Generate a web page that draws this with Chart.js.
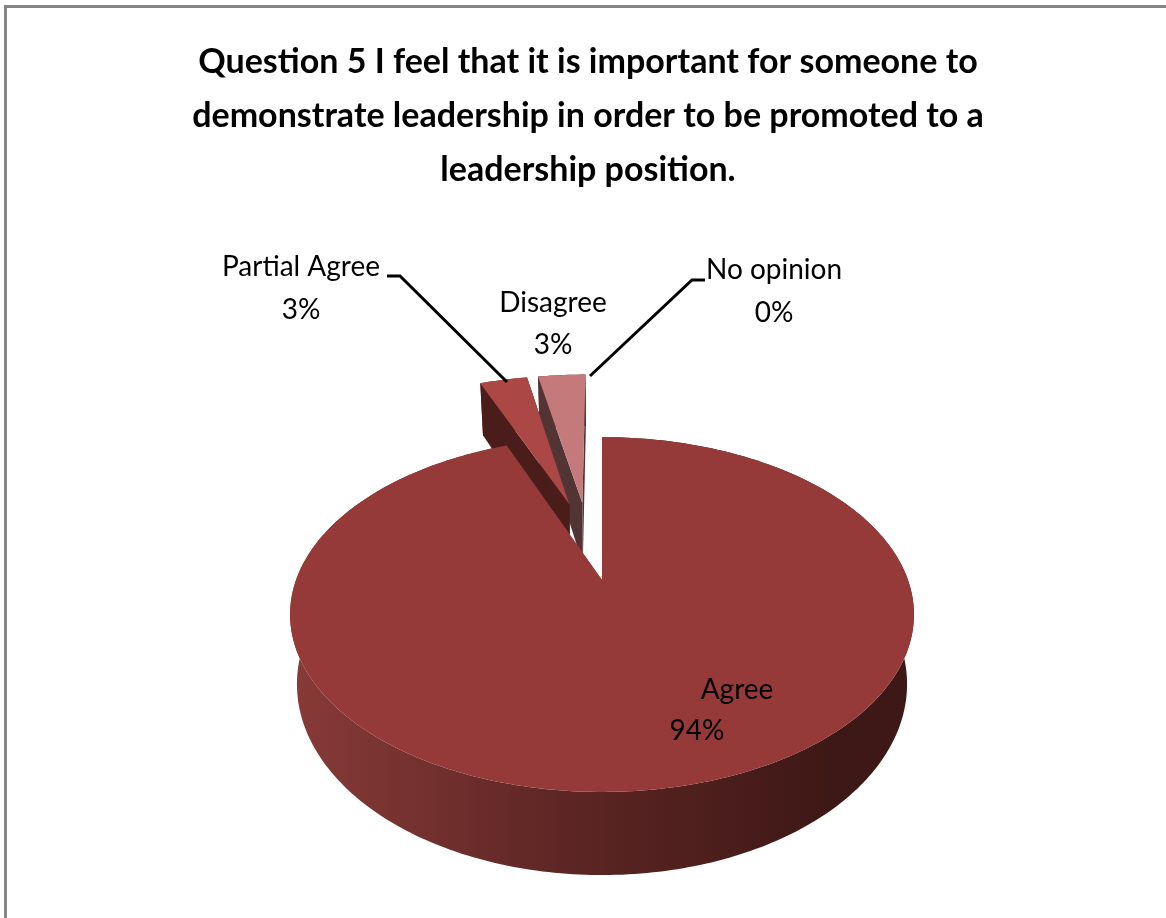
<!DOCTYPE html>
<html>
<head>
<meta charset="utf-8">
<title>Question 5</title>
<script src="https://cdn.jsdelivr.net/npm/chart.js@4/dist/chart.umd.js"></script>
<style>
  html, body { margin: 0; background: #fff; }
  #wrap { width: 1166px; height: 918px; }
</style>
</head>
<body>
<div id="wrap"><canvas id="pieChart" width="1166" height="918"></canvas></div>
<script>
const categories = ["Agree", "Partial Agree", "Disagree", "No opinion"];
const percents = [94, 3, 3, 0];
const titleLines = [
    "Question 5 I feel that it is important for someone to",
    "demonstrate leadership in order to be promoted to a",
    "leadership position."
];

// Perspective of the tilted disc
const TILT = 0.194;
const SQUASH = 0.558;
const DEPTH = 67;
const BASE_SHRINK = 0.978;
const PIE_NUDGE_X = 14;
// Pulled-out slices lean toward this shared direction and read a bit longer
const FAN_AXIS = 1.5 * Math.PI - 0.188;
const SLICE_STRETCH = 1.075;

// Projects a point of the flat pie (radius units) to the canvas
function project(cx, cy, r, u, v) {
    const w = 1 - TILT * v;
    return { x: cx + r * u / w, y: cy + r * SQUASH * v / w, w: w };
}

function lowered(cx, p) {
    return { x: cx + (p.x - cx) * BASE_SHRINK, y: p.y + DEPTH / p.w };
}

function pathFrom(ctx, pts) {
    ctx.beginPath();
    pts.forEach((p, i) => i ? ctx.lineTo(p.x, p.y) : ctx.moveTo(p.x, p.y));
    ctx.closePath();
}

class Arc3D extends Chart.ArcElement {
    draw(ctx) {
        const { startAngle, endAngle, outerRadius, circumference } = this.getProps(
            ["startAngle", "endAngle", "outerRadius", "circumference"]);
        if (circumference <= 0) return;

        const area = this.$context.chart.chartArea;
        const cx = area.left + area.width / 2 + PIE_NUDGE_X;
        const cy = area.top + area.height / 2;
        const opts = this.options;
        const exploded = opts.offset > 0;
        const mid = (startAngle + endAngle) / 2;
        const lean = exploded ? (mid + FAN_AXIS) / 2 : mid;
        const shift = opts.offset / outerRadius;
        const ou = Math.cos(lean) * shift;
        const ov = Math.sin(lean) * shift;
        const reach = exploded ? SLICE_STRETCH : 1;

        const apex = project(cx, cy, outerRadius, ou, ov);
        const rim = [];
        const steps = Math.max(8, Math.round(circumference * 60));
        for (let i = 0; i <= steps; i++) {
            const a = startAngle + (endAngle - startAngle) * i / steps;
            rim.push(project(cx, cy, outerRadius, ou + reach * Math.cos(a), ov + reach * Math.sin(a)));
        }

        ctx.save();

        // outer wall
        const wall = rim.concat(rim.map(p => lowered(cx, p)).reverse());
        const shade = ctx.createLinearGradient(cx - outerRadius, 0, cx + outerRadius * 0.75, 0);
        shade.addColorStop(0, "#873a38");
        shade.addColorStop(0.5, "#5d2624");
        shade.addColorStop(1, "#3e1816");
        ctx.fillStyle = shade;
        pathFrom(ctx, wall);
        ctx.fill();

        // cut faces, seen on the exploded slices
        const first = rim[0];
        const last = rim[rim.length - 1];
        ctx.fillStyle = sideColors[this.$context.dataIndex];
        pathFrom(ctx, [apex, first, lowered(cx, first), lowered(cx, apex)]);
        ctx.fill();
        pathFrom(ctx, [apex, last, lowered(cx, last), lowered(cx, apex)]);
        ctx.fill();

        // top face
        ctx.fillStyle = opts.backgroundColor;
        pathFrom(ctx, [apex].concat(rim));
        ctx.fill();
        ctx.restore();
    }
}
Arc3D.id = "arc3d";
Arc3D.defaults = Object.assign({}, Chart.ArcElement.defaults);
Arc3D.defaultRoutes = Chart.ArcElement.defaultRoutes;

class Pie3DController extends Chart.PieController {
    // front slice last so it covers the walls of the ones behind it
    draw() {
        const arcs = this._cachedMeta.data;
        for (let i = arcs.length - 1; i >= 0; i--) {
            arcs[i].draw(this._ctx);
        }
    }
}
Pie3DController.id = "pie3d";
Pie3DController.defaults = Object.assign({}, Chart.PieController.defaults, { dataElementType: "arc3d" });
Pie3DController.overrides = Chart.PieController.overrides;

Chart.register(Arc3D, Pie3DController);

const sideColors = ["#953a39", "#4a1d1a", "#523434", "#523434"];

// Grey outline of the chart box
const frame = {
    id: "frame",
    beforeDraw(chart) {
        const ctx = chart.ctx;
        ctx.save();
        ctx.strokeStyle = "#868686";
        ctx.lineWidth = 3;
        ctx.beginPath();
        ctx.moveTo(5.5, 918);
        ctx.lineTo(5.5, 6.5);
        ctx.lineTo(1166, 6.5);
        ctx.stroke();
        ctx.restore();
    }
};

// Slice captions and their leader lines
const captionCenters = [
    { name: [737, 690], value: [697, 731] },
    { name: [301, 267], value: [301, 310] },
    { name: [553, 303], value: [553, 345] },
    { name: [774, 270], value: [774, 313] }
];
const leaders = [
    [[387, 276], [400, 276], [507, 382]],
    [[705, 280], [692, 280], [590, 376]]
];

const captions = {
    id: "captions",
    afterDatasetsDraw(chart) {
        const ctx = chart.ctx;
        ctx.save();
        ctx.fillStyle = "#000";
        ctx.font = "28px Lato";
        ctx.textAlign = "center";
        ctx.textBaseline = "middle";
        categories.forEach((name, i) => {
            ctx.fillText(name, captionCenters[i].name[0], captionCenters[i].name[1]);
            ctx.fillText(percents[i] + "%", captionCenters[i].value[0], captionCenters[i].value[1]);
        });
        ctx.strokeStyle = "#000";
        ctx.lineWidth = 3;
        leaders.forEach(line => {
            ctx.beginPath();
            line.forEach((p, i) => i ? ctx.lineTo(p[0], p[1]) : ctx.moveTo(p[0], p[1]));
            ctx.stroke();
        });
        ctx.restore();
    }
};

new Chart(document.getElementById("pieChart"), {
    type: "pie3d",
    data: {
        labels: categories,
        datasets: [{
            data: percents,
            backgroundColor: ["#953a39", "#ab4744", "#c47a7a", "#d9a9a8"],
            offset: [0, 153, 153, 153],
            borderWidth: 0
        }]
    },
    options: {
        responsive: false,
        animation: false,
        radius: 306,
        rotation: 0,
        layout: { padding: { left: 10, top: 0, right: 0, bottom: 0 } },
        plugins: {
            legend: { display: false },
            tooltip: { enabled: false },
            title: {
                display: true,
                text: titleLines,
                color: "#000",
                position: "top",
                align: "center",
                font: { family: "Lato", size: 34, weight: "bold", lineHeight: 1.59 },
                padding: { top: 35, bottom: 45 }
            }
        }
    },
    plugins: [frame, captions]
});
</script>
</body>
</html>
